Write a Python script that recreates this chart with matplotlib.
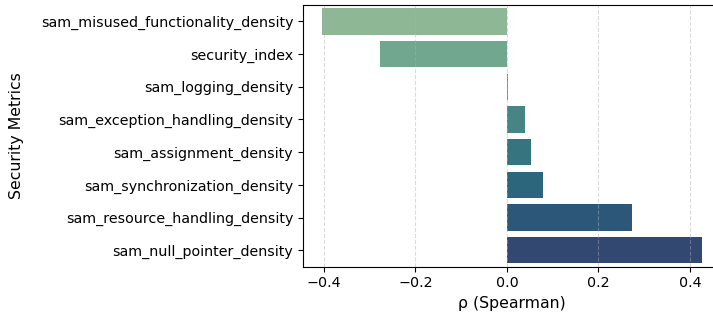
import numpy as np
import matplotlib
matplotlib.use("Agg")
import matplotlib.pyplot as plt
import seaborn as sns
import pandas as pd

metrics = [
    "sam_misused_functionality_density",
    "security_index",
    "sam_logging_density",
    "sam_exception_handling_density",
    "sam_assignment_density",
    "sam_synchronization_density",
    "sam_resource_handling_density",
    "sam_null_pointer_density",
]
rho = [-0.404, -0.277, 0.002, 0.039, 0.052, 0.078, 0.273, 0.426]

df = pd.DataFrame({"metric": metrics, "rho": rho})

fig = plt.figure(figsize=(7.13, 3.2), dpi=100)
ax = fig.add_axes([0.425, 0.167, 0.586, 0.817])

sns.barplot(data=df, x="rho", y="metric", hue="metric", palette="crest",
            legend=False, ax=ax)

ax.tick_params(labelsize=10.3)
ax.grid(axis="x", linestyle="--", alpha=0.45)
ax.set_xlabel("ρ (Spearman)", fontsize=11.3)
ax.set_ylabel("Security Metrics", fontsize=11.3, labelpad=12)

fig.savefig("out.png", dpi=100)
